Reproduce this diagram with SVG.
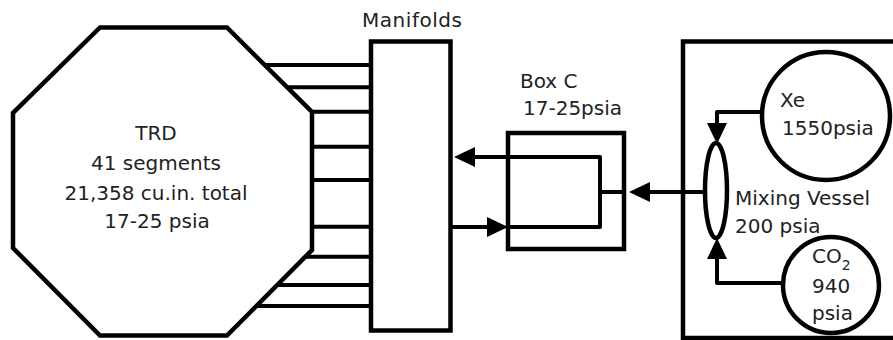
<svg xmlns="http://www.w3.org/2000/svg" width="893" height="340" viewBox="0 0 893 340">
<style>
.sh{fill:none;stroke:#000;stroke-width:4.5;stroke-linejoin:miter}
.ln{fill:none;stroke:#000;stroke-width:4;stroke-linejoin:round}
.t{font-family:"DejaVu Sans",Verdana,sans-serif;font-size:20px;fill:#222}
</style>
<defs>
<marker id="arr" viewBox="0 0 21 20" markerWidth="21" markerHeight="20" refX="0" refY="10" orient="auto" markerUnits="userSpaceOnUse">
<path d="M0,0 L21,10 L0,20 z" fill="#000"/>
</marker>
</defs>
<rect width="893" height="340" fill="#fff"/>
<g id="connectors">
<path class="ln" d="M264.7,65 H371 M287,87.3 H371 M312,111.7 H371 M312,146.7 H371 M312,180 H371 M312,226.7 H371 M305.3,256.7 H371 M277.2,285 H371 M256.3,306 H371"/>
<path class="ln" d="M506,227 H600 V157 H475" marker-end="url(#arr)"/>
<path class="ln" d="M452,227 H487" marker-end="url(#arr)"/>
<path class="ln" d="M600,192 H625"/>
<path class="ln" d="M705,192 H650" marker-end="url(#arr)"/>
<path class="ln" d="M762,112 H717 V123" marker-end="url(#arr)"/>
<path class="ln" d="M783,283 H717 V259" marker-end="url(#arr)"/>
</g>
<g id="trd">
<polygon class="sh" points="100,27.5 227,27.5 312,112 312,250 227,335.5 100,335.5 13,248 13,113"/>
<text class="t" text-anchor="middle" x="156" y="140">TRD</text>
<text class="t" text-anchor="middle" x="156" y="170">41 segments</text>
<text class="t" text-anchor="middle" x="156" y="200">21,358 cu.in. total</text>
<text class="t" text-anchor="middle" x="157" y="228">17-25 psia</text>
</g>
<g id="manifolds">
<rect class="sh" x="371" y="41.5" width="79.5" height="289"/>
<text class="t" x="362" y="27" textLength="100">Manifolds</text>
</g>
<g id="boxc">
<rect class="sh" x="508" y="133" width="116" height="116"/>
<text class="t" x="520" y="88">Box C</text>
<text class="t" x="523" y="115">17-25psia</text>
</g>
<g id="supply">
<rect class="sh" x="683" y="41.5" width="260" height="296.5"/>
</g>
<g id="xe">
<circle class="sh" cx="826" cy="116" r="64"/>
<text class="t" x="780" y="107">Xe</text>
<text class="t" x="782" y="135">1550psia</text>
</g>
<g id="mixing">
<ellipse class="sh" cx="716" cy="190.5" rx="11" ry="47.5"/>
<text class="t" x="735" y="205">Mixing Vessel</text>
<text class="t" x="735" y="233">200 psia</text>
</g>
<g id="co2">
<circle class="sh" cx="831" cy="285" r="48"/>
<text class="t" x="812" y="263">CO<tspan font-size="14" dy="7">2</tspan></text>
<text class="t" x="812" y="293">940</text>
<text class="t" x="812" y="320">psia</text>
</g>
</svg>
